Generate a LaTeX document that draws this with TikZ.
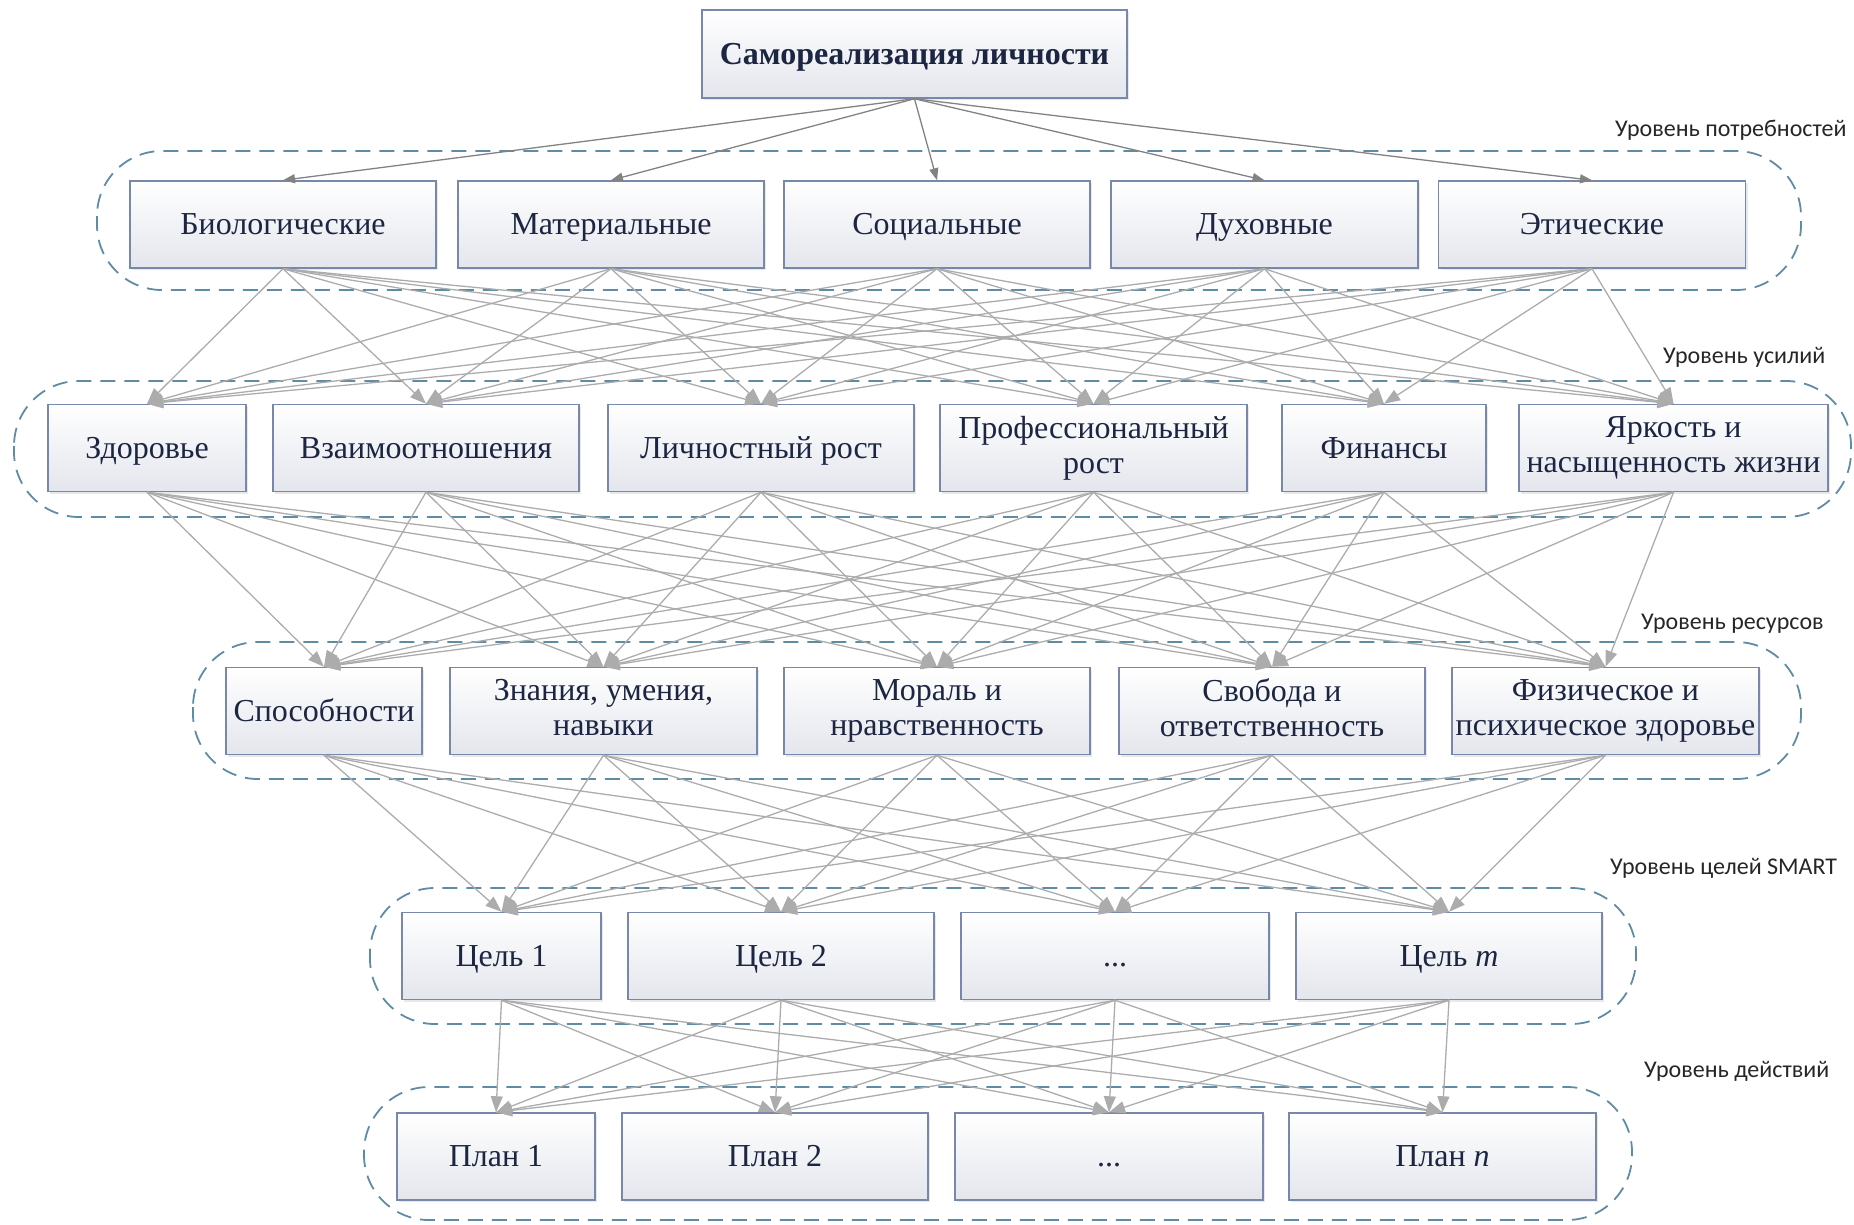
\documentclass[tikz,border=0pt]{standalone}
\usepackage{fontspec}
\setmainfont{Liberation Serif}
\newfontfamily\labelfont{Carlito}
\usetikzlibrary{arrows.meta,shadows}

\definecolor{boxborder}{RGB}{120,135,172}
\definecolor{boxtext}{RGB}{28,38,66}
\definecolor{boxbottom}{RGB}{228,230,237}
\definecolor{groupline}{RGB}{95,140,165}
\definecolor{linkgray}{RGB}{172,172,172}
\definecolor{topgray}{RGB}{130,130,130}

\tikzset{
  box/.style={draw=boxborder, line width=1.5pt, top color=white, bottom color=boxbottom,
    text=boxtext, minimum height=87pt, inner sep=2pt, align=center,
    font=\fontsize{32}{35}\selectfont,
    execute at begin node={\rule{0pt}{27pt}}, execute at end node={\rule[-7pt]{0pt}{7pt}},
    drop shadow={shadow xshift=2pt, shadow yshift=-2pt, opacity=0.18, fill=gray}},
  grp/.style={draw=groupline, line width=1.8pt, dash pattern=on 15pt off 9pt, rounded corners=65pt},
  lvl/.style={anchor=west, text=black!85, font=\labelfont\fontsize{24}{27}\selectfont, inner sep=0pt},
  link/.style={draw=linkgray, line width=1.3pt, -{Triangle[length=16pt,width=12pt]}},
  toplink/.style={draw=topgray, line width=1.3pt, -{Triangle[length=12pt,width=9pt]}},
}

\begin{document}
\begin{tikzpicture}[x=1pt,y=-1pt]
\useasboundingbox (0,0) rectangle (1854,1224);

% level containers
\draw[grp] (97,151) rectangle (1801,290);
\draw[grp] (14,381) rectangle (1851,517);
\draw[grp] (193,642) rectangle (1801,779);
\draw[grp] (370,888) rectangle (1636,1024);
\draw[grp] (364,1087) rectangle (1632,1220);

% level labels
\node[lvl] (l1) at (1615,130) {Уровень потребностей};
\node[lvl] (l2) at (1663,357) {Уровень усилий};
\node[lvl] (l3) at (1641,624) {Уровень ресурсов};
\node[lvl] (l4) at (1610,868) {Уровень целей SMART};
\node[lvl] (l5) at (1644,1071) {Уровень действий};

% top
\node[box, minimum width=425pt, minimum height=88pt] (top) at (914.5,54) {\textbf{Самореализация личности}};

% level 1
\node[box, minimum width=306pt] (bio) at (283,224.5) {Биологические};
\node[box, minimum width=306pt] (mat) at (611,224.5) {Материальные};
\node[box, minimum width=306pt] (soc) at (937,224.5) {Социальные};
\node[box, minimum width=307pt] (duh) at (1264.5,224.5) {Духовные};
\node[box, minimum width=307pt] (eti) at (1592,224.5) {Этические};

% level 2
\node[box, minimum width=198pt] (zdr) at (147,448) {Здоровье};
\node[box, minimum width=306pt] (vza) at (426,448) {Взаимоотношения};
\node[box, minimum width=306pt] (lic) at (761,448) {Личностный рост};
\node[box, minimum width=307pt] (pro) at (1093.5,448) {Профессиональный\\рост};
\node[box, minimum width=204pt] (fin) at (1384,448) {Финансы};
\node[box, minimum width=309pt] (yar) at (1673.5,448) {Яркость и\\насыщенность жизни};

% level 3
\node[box, minimum width=196pt] (spo) at (324,711) {Способности};
\node[box, minimum width=307pt] (zna) at (603.5,711) {Знания, умения,\\навыки};
\node[box, minimum width=306pt] (mor) at (937,711) {Мораль и\\нравственность};
\node[box, minimum width=306pt] (svo) at (1272,711) {Свобода и\\ответственность};
\node[box, minimum width=307pt] (fiz) at (1605.5,711) {Физическое и\\психическое здоровье};

% level 4
\node[box, minimum width=199pt] (c1) at (501.5,956) {Цель 1};
\node[box, minimum width=306pt] (c2) at (781,956) {Цель 2};
\node[box, minimum width=308pt] (c3) at (1115,956) {...};
\node[box, minimum width=306pt] (cm) at (1449,956) {Цель \textit{m}};

% level 5
\node[box, minimum width=198pt] (p1) at (496,1156.5) {План 1};
\node[box, minimum width=306pt] (p2) at (775,1156.5) {План 2};
\node[box, minimum width=308pt] (p3) at (1109,1156.5) {...};
\node[box, minimum width=307pt] (pn) at (1442.5,1156.5) {План \textit{n}};

% connectors
\foreach \t in {bio,mat,soc,duh,eti}
  \draw[toplink] (top.south) -- (\t.north);
\foreach \s in {bio,mat,soc,duh,eti}
  \foreach \t in {zdr,vza,lic,pro,fin,yar}
    \draw[link] (\s.south) -- (\t.north);
\foreach \s in {zdr,vza,lic,pro,fin,yar}
  \foreach \t in {spo,zna,mor,svo,fiz}
    \draw[link] (\s.south) -- (\t.north);
\foreach \s in {spo,zna,mor,svo,fiz}
  \foreach \t in {c1,c2,c3,cm}
    \draw[link] (\s.south) -- (\t.north);
\foreach \s in {c1,c2,c3,cm}
  \foreach \t in {p1,p2,p3,pn}
    \draw[link] (\s.south) -- (\t.north);
\end{tikzpicture}
\end{document}
